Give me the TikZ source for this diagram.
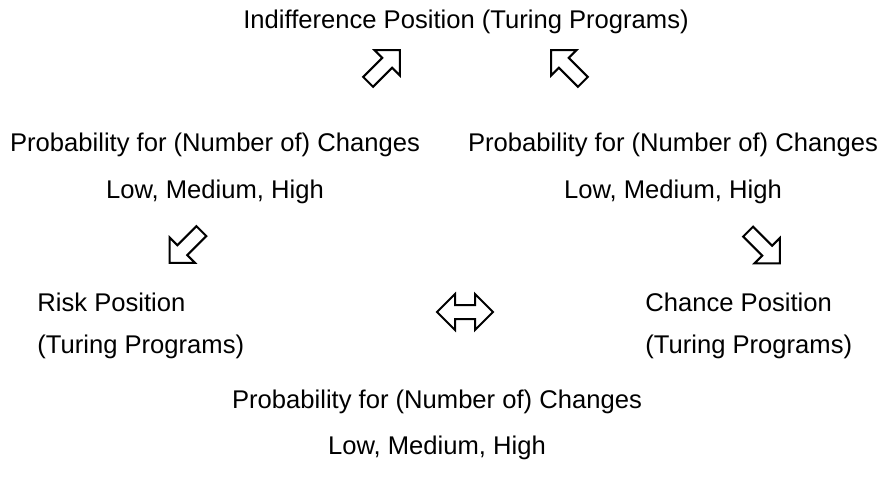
\documentclass[tikz,border=0pt]{standalone}
\usepackage{fontspec}
\setmainfont{Liberation Sans}

\begin{document}
\begin{tikzpicture}[x=0.5pt, y=-0.5pt,
    lbl/.style={inner sep=0pt, font=\fontsize{12.8}{15}\selectfont},
    hollow/.style={draw=black, fill=white, line width=1pt, line join=miter}]
\newcommand{\blkarrow}[2]{
    \begin{scope}[shift={(#1)}, rotate=#2]
        \draw[hollow] (-22.5,-7) -- (4.5,-7) -- (4.5,-18) -- (22.5,0) -- (4.5,18) -- (4.5,7) -- (-22.5,7) -- cycle;
    \end{scope}
}
\useasboundingbox (0,0) rectangle (884,494);

\node[lbl] (indiff) at (466,22) {Indifference Position (Turing Programs)};

\blkarrow{384,66}{45}
\blkarrow{567,66}{135}

\node[lbl] (probL) at (215,145) {Probability for (Number of) Changes};
\node[lbl] (levL) at (215,192) {Low, Medium, High};
\node[lbl] (probR) at (673,145) {Probability for (Number of) Changes};
\node[lbl] (levR) at (673,192) {Low, Medium, High};

\blkarrow{185.5,247}{225}
\blkarrow{764,247.5}{-45}

\node[lbl, anchor=west] (risk) at (37,302) {Risk Position};
\node[lbl, anchor=west] (riskTP) at (37,347) {(Turing Programs)};
\node[lbl, anchor=west] (chance) at (645,302) {Chance Position};
\node[lbl, anchor=west] (chanceTP) at (645,347) {(Turing Programs)};

% double arrow between the two positions
\begin{scope}[shift={(465,312)}]
    \draw[hollow] (-28,0) -- (-10,-18) -- (-10,-7) -- (10,-7) -- (10,-18) -- (28,0) -- (10,18) -- (10,7) -- (-10,7) -- (-10,18) -- cycle;
\end{scope}

\node[lbl] (probB) at (437,402) {Probability for (Number of) Changes};
\node[lbl] (levB) at (437,448) {Low, Medium, High};
\end{tikzpicture}
\end{document}
